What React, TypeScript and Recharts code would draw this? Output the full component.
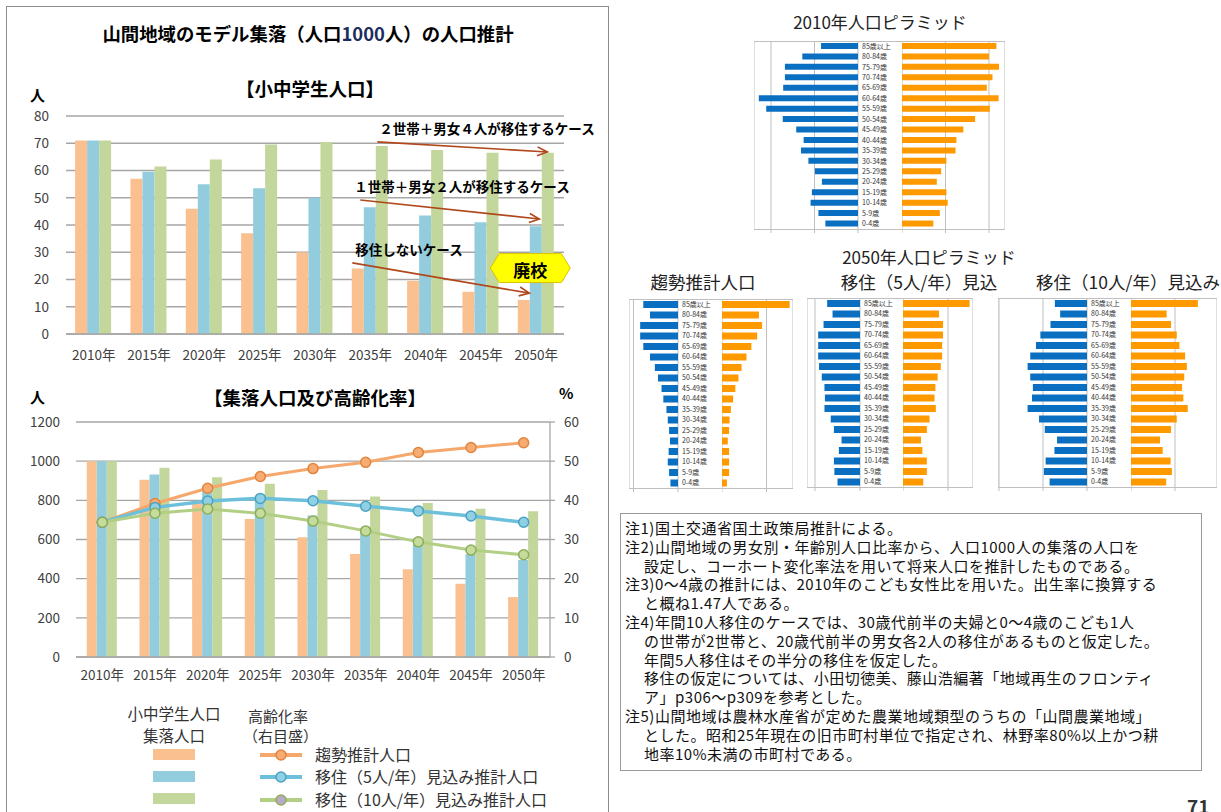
import React from 'react';
import {
  Bar, BarChart, CartesianGrid, ComposedChart, Line, ReferenceDot, ReferenceLine, XAxis, YAxis,
} from 'recharts';

const FONT = "'Noto Sans CJK JP', 'Noto Sans', sans-serif";

const YEARS = ['2010年', '2015年', '2020年', '2025年', '2030年', '2035年', '2040年', '2045年', '2050年'];

// 小中学生人口 (人)
const PUPILS_TREND = [71, 57, 46, 37, 30, 24, 19.5, 15.5, 12.5];
const PUPILS_MIG5 = [71, 59.5, 55, 53.5, 50, 46.5, 43.5, 41, 39.5];
const PUPILS_MIG10 = [71, 61.5, 64, 69.5, 70.5, 69, 67.5, 66.5, 66.5];

// 集落人口 (人)
const POP_TREND = [1000, 905, 795, 705, 612, 526, 448, 374, 306];
const POP_MIG5 = [1000, 932, 852, 805, 722, 640, 575, 525, 495];
const POP_MIG10 = [1000, 966, 918, 885, 853, 820, 786, 757, 744];

// 高齢化率 (%)
const AGING_TREND = [34.4, 39.2, 43.1, 46.1, 48.1, 49.7, 52.2, 53.5, 54.7];
const AGING_MIG5 = [34.4, 38.2, 39.8, 40.5, 39.9, 38.5, 37.3, 36.0, 34.4];
const AGING_MIG10 = [34.4, 36.7, 37.8, 36.7, 34.7, 32.2, 29.4, 27.3, 26.1];

// 人口ピラミッド
const AGES = ['85歳以上', '80-84歳', '75-79歳', '70-74歳', '65-69歳', '60-64歳', '55-59歳', '50-54歳', '45-49歳',
  '40-44歳', '35-39歳', '30-34歳', '25-29歳', '20-24歳', '15-19歳', '10-14歳', '5-9歳', '0-4歳'];
const MALE_2010 = [0.85, 1.28, 1.68, 1.68, 1.72, 2.28, 2.11, 1.73, 1.42, 1.25, 1.31, 1.14, 0.99, 0.83, 1.06, 1.09, 0.91, 0.75];
const FEMALE_2010 = [2.17, 2.0, 2.23, 2.08, 1.95, 2.22, 2.02, 1.68, 1.41, 1.25, 1.23, 1.02, 0.9, 0.8, 1.02, 1.05, 0.87, 0.72];
const MALE_2050_TREND = [0.78, 0.63, 0.85, 0.85, 0.78, 0.63, 0.52, 0.45, 0.37, 0.33, 0.26, 0.23, 0.2, 0.18, 0.21, 0.23, 0.2, 0.17];
const FEMALE_2050_TREND = [1.52, 0.83, 0.9, 0.79, 0.66, 0.55, 0.44, 0.37, 0.3, 0.25, 0.2, 0.17, 0.16, 0.13, 0.16, 0.16, 0.16, 0.11];
const MALE_2050_MIG5 = [0.73, 0.61, 0.81, 0.93, 0.93, 0.93, 0.91, 0.85, 0.79, 0.78, 0.79, 0.65, 0.58, 0.41, 0.47, 0.58, 0.57, 0.5];
const FEMALE_2050_MIG5 = [1.48, 0.8, 0.89, 0.89, 0.87, 0.87, 0.84, 0.77, 0.72, 0.7, 0.73, 0.59, 0.53, 0.4, 0.43, 0.53, 0.53, 0.45];
const MALE_2050_MIG10 = [0.73, 0.61, 0.83, 1.06, 1.16, 1.29, 1.35, 1.29, 1.23, 1.25, 1.35, 1.09, 0.96, 0.68, 0.74, 0.94, 0.98, 0.85];
const FEMALE_2050_MIG10 = [1.52, 0.81, 0.91, 1.04, 1.1, 1.23, 1.27, 1.21, 1.16, 1.19, 1.29, 1.04, 0.91, 0.66, 0.72, 0.9, 0.93, 0.8];

const NOTES = [
  '注1)国土交通省国土政策局推計による。',
  '注2)山間地域の男女別・年齢別人口比率から、人口1000人の集落の人口を',
  '設定し、コーホート変化率法を用いて将来人口を推計したものである。',
  '注3)0～4歳の推計には、2010年のこども女性比を用いた。出生率に換算する',
  'と概ね1.47人である。',
  '注4)年間10人移住のケースでは、30歳代前半の夫婦と0～4歳のこども1人',
  'の世帯が2世帯と、20歳代前半の男女各2人の移住があるものと仮定した。',
  '年間5人移住はその半分の移住を仮定した。',
  '移住の仮定については、小田切徳美、藤山浩編著「地域再生のフロンティ',
  'ア」p306～p309を参考とした。',
  '注5)山間地域は農林水産省が定めた農業地域類型のうちの「山間農業地域」',
  'とした。昭和25年現在の旧市町村単位で指定され、林野率80%以上かつ耕',
  '地率10%未満の市町村である。',
];

const ORANGE = '#fac090';
const BLUE = '#93cddd';
const GREEN = '#c3d69b';
const GRID = '#a6a6a6';
const PYR_GRID = '#bfbfbf';
const ARROW = '#b0481c';

const pupilData = YEARS.map((year, i) => ({
  year, trend: PUPILS_TREND[i], mig5: PUPILS_MIG5[i], mig10: PUPILS_MIG10[i],
}));
const popData = YEARS.map((year, i) => ({
  year, trend: POP_TREND[i], mig5: POP_MIG5[i], mig10: POP_MIG10[i],
  aTrend: AGING_TREND[i], aMig5: AGING_MIG5[i], aMig10: AGING_MIG10[i],
}));

const arrowShape = (label: string, dxStart: number, dxEnd: number, textDx: number) => (p: any) => {
  if (p.x1 == null) return <g />;
  const x1 = p.x1 + dxStart, x2 = p.x2 + dxEnd, y1 = p.y1, y2 = p.y2;
  const ang = Math.atan2(y2 - y1, x2 - x1);
  const L = 11, a = 0.42;
  const hx1 = x2 - L * Math.cos(ang - a), hy1 = y2 - L * Math.sin(ang - a);
  const hx2 = x2 - L * Math.cos(ang + a), hy2 = y2 - L * Math.sin(ang + a);
  return (
    <g>
      <text x={x1 + textDx} y={y1 - 14} dominantBaseline="central" fontSize={13.5} fontWeight={700} fill="#000" fontFamily={FONT}>{label}</text>
      <line x1={x1} y1={y1} x2={x2} y2={y2} stroke={ARROW} strokeWidth={1.6} />
      <polyline points={`${hx1},${hy1} ${x2},${y2} ${hx2},${hy2}`} fill="none" stroke={ARROW} strokeWidth={1.6} />
    </g>
  );
};

const closedShape = (p: any) => {
  if (p.cx == null) return <g />;
  const cx = p.cx - 6, cy = p.cy, w = 40, h = 14.5, c = 9;
  const pts = [[cx - w + c, cy - h], [cx + w - c, cy - h], [cx + w, cy], [cx + w - c, cy + h], [cx - w + c, cy + h], [cx - w, cy]]
    .map(q => q.join(',')).join(' ');
  return (
    <g>
      <polygon points={pts} fill="#ffff00" stroke="#d9c400" strokeWidth={1} />
      <text x={cx} y={cy + 1} textAnchor="middle" dominantBaseline="central" fontSize={17} fontWeight={700} fill="#000" fontFamily={FONT}>廃校</text>
    </g>
  );
};

type PyrProps = {
  x: number; y: number; leftW: number; labelW: number; rightW: number; h: number; unit: number;
  male: number[]; female: number[];
};

const Pyramid = ({ x, y, leftW, labelW, rightW, h, unit, male, female }: PyrProps) => {
  const leftMax = leftW / unit;
  const rightMax = rightW / unit;
  const maleRows = AGES.map((age, i) => ({ age, v: male[i] }));
  const femaleRows = AGES.map((age, i) => ({ age, v: female[i] }));
  const ticksL = [0, 1, 2].filter(t => t <= leftMax);
  const ticksR = [0, 1, 2].filter(t => t <= rightMax);
  const total = leftW + labelW + rightW;
  return (
    <div style={{ position: 'absolute', left: x, top: y, width: total, height: h + 6 }}>
      <div style={{ position: 'absolute', left: 0, top: 0 }}>
        <BarChart layout="vertical" width={leftW + labelW} height={h + 6} data={maleRows}
          margin={{ top: 0, right: 0, bottom: 0, left: 0 }} barCategoryGap="19%">
          <CartesianGrid horizontal={false} stroke={PYR_GRID} />
          <XAxis type="number" domain={[0, leftMax]} ticks={ticksL} reversed allowDataOverflow axisLine={false}
            tickLine={{ stroke: PYR_GRID }} tickSize={4} tickFormatter={() => ''} height={6} />
          <YAxis type="category" dataKey="age" orientation="right" width={labelW} axisLine={false} tickLine={false}
            tickSize={0} tickMargin={4} interval={0} tick={{ fontSize: 7, fill: '#333', fontFamily: FONT }} />
          <Bar dataKey="v" fill="#0b6fc1" isAnimationActive={false} />
        </BarChart>
      </div>
      <div style={{ position: 'absolute', left: leftW + labelW, top: 0 }}>
        <BarChart layout="vertical" width={rightW} height={h + 6} data={femaleRows}
          margin={{ top: 0, right: 0, bottom: 0, left: 0 }} barCategoryGap="19%">
          <CartesianGrid horizontal={false} stroke={PYR_GRID} />
          <XAxis type="number" domain={[0, rightMax]} ticks={ticksR} allowDataOverflow axisLine={false}
            tickLine={{ stroke: PYR_GRID }} tickSize={4} tickFormatter={() => ''} height={6} />
          <YAxis type="category" dataKey="age" hide />
          <Bar dataKey="v" fill="#ff9900" isAnimationActive={false} />
        </BarChart>
      </div>
      <div style={{
        position: 'absolute', left: 0, top: 0, width: total, height: h + 1, boxSizing: 'border-box',
        borderTop: `1px solid ${PYR_GRID}`, borderBottom: `1px solid ${PYR_GRID}`, pointerEvents: 'none',
      }} />
    </div>
  );
};

const txt = (s: React.CSSProperties): React.CSSProperties => ({ position: 'absolute', whiteSpace: 'nowrap', lineHeight: 1, ...s });

const LegendLine = ({ y, color, fill, stroke, label }: { y: number; color: string; fill: string; stroke: string; label: string }) => (
  <>
    <svg style={{ position: 'absolute', left: 255, top: y - 8 }} width={52} height={16}>
      <line x1={5} y1={8} x2={47} y2={8} stroke={color} strokeWidth={4} />
      <circle cx={26} cy={8} r={5} fill={fill} stroke={stroke} strokeWidth={1.5} />
    </svg>
    <div style={txt({ left: 315, top: y - 9, fontSize: 16, color: '#333' })}>{label}</div>
  </>
);

const App = () => {
  const tickStyle = { fontSize: 13.5, fill: '#404040', fontFamily: FONT };
  return (
    <div style={{ position: 'absolute', left: 0, top: 0, width: 1221, height: 812, overflow: 'hidden', background: '#fff', fontFamily: FONT, color: '#000' }}>
      <div style={{ position: 'absolute', left: 6, top: 6, width: 601, height: 840, border: '1.5px solid #8c8c8c' }} />

      <div style={txt({ left: 8, width: 600, top: 24, textAlign: 'center', fontSize: 18.4, fontWeight: 700 })}>
        山間地域のモデル集落（人口<span style={{ color: '#1c2c5c' }}>1000</span>人）の人口推計
      </div>
      <div style={txt({ left: 10, width: 600, top: 79, textAlign: 'center', fontSize: 18.5, fontWeight: 700 })}>【小中学生人口】</div>
      <div style={txt({ left: 30, top: 87, fontSize: 15, fontWeight: 700 })}>人</div>

      <div style={{ position: 'absolute', left: 0, top: 0 }}>
        <BarChart width={610} height={380} data={pupilData} margin={{ top: 116, right: 46, bottom: 6, left: 26 }}
          barCategoryGap="16.5%" barGap={0}>
          <CartesianGrid vertical={false} stroke={GRID} strokeWidth={1.3} />
          <XAxis dataKey="year" height={40} interval={0} tickLine={false} axisLine={{ stroke: GRID, strokeWidth: 1.3 }}
            tickSize={0} tickMargin={16} tick={tickStyle} />
          <YAxis width={40} domain={[0, 80]} ticks={[0, 10, 20, 30, 40, 50, 60, 70, 80]} axisLine={false} tickLine={false}
            tickSize={0} tickMargin={17} tick={tickStyle} />
          <Bar dataKey="trend" fill={ORANGE} isAnimationActive={false} />
          <Bar dataKey="mig5" fill={BLUE} isAnimationActive={false} />
          <Bar dataKey="mig10" fill={GREEN} isAnimationActive={false} />
          <ReferenceLine segment={[{ x: '2035年', y: 70.5 }, { x: '2050年', y: 66.8 }]}
            shape={arrowShape('２世帯＋男女４人が移住するケース', 7, 11, 2)} />
          <ReferenceLine segment={[{ x: '2035年', y: 49.2 }, { x: '2050年', y: 42.2 }]}
            shape={arrowShape('１世帯＋男女２人が移住するケース', -10, 3, -6)} />
          <ReferenceLine segment={[{ x: '2035年', y: 26.1 }, { x: '2050年', y: 15 }]}
            shape={arrowShape('移住しないケース', -18, -7, 3)} />
          <ReferenceDot x="2050年" y={24.2} shape={closedShape} />
        </BarChart>
      </div>

      <div style={txt({ left: 10, width: 610, top: 388, textAlign: 'center', fontSize: 18.5, fontWeight: 700 })}>【集落人口及び高齢化率】</div>
      <div style={txt({ left: 30, top: 389, fontSize: 15, fontWeight: 700 })}>人</div>
      <div style={txt({ left: 559, top: 385, fontSize: 15, fontWeight: 700 })}>%</div>

      <div style={{ position: 'absolute', left: 0, top: 380 }}>
        <ComposedChart width={610} height={320} data={popData} margin={{ top: 42, right: 20, bottom: 8, left: 31 }}
          barCategoryGap="20.5%" barGap={0}>
          <CartesianGrid vertical={false} yAxisId="left" stroke={GRID} strokeWidth={1.3} />
          <XAxis dataKey="year" height={35} interval={0} tickLine={false} axisLine={{ stroke: GRID, strokeWidth: 1.3 }}
            tickSize={0} tickMargin={13} tick={tickStyle} />
          <YAxis yAxisId="left" width={45} domain={[0, 1200]} ticks={[0, 200, 400, 600, 800, 1000, 1200]}
            axisLine={false} tickLine={false} tickSize={0} tickMargin={16} tick={tickStyle} />
          <YAxis yAxisId="right" orientation="right" width={40} domain={[0, 60]} ticks={[0, 10, 20, 30, 40, 50, 60]}
            axisLine={{ stroke: GRID, strokeWidth: 1.3 }} tickLine={{ stroke: GRID, strokeWidth: 1.3 }} tickSize={5}
            tickMargin={9} tick={tickStyle} />
          <Bar yAxisId="left" dataKey="trend" fill={ORANGE} isAnimationActive={false} />
          <Bar yAxisId="left" dataKey="mig5" fill={BLUE} isAnimationActive={false} />
          <Bar yAxisId="left" dataKey="mig10" fill={GREEN} isAnimationActive={false} />
          <Line yAxisId="right" dataKey="aTrend" stroke="#f6a86c" strokeWidth={3}
            dot={{ r: 5, fill: '#f7ac74', stroke: '#e2843c', strokeWidth: 1.5 }} isAnimationActive={false} />
          <Line yAxisId="right" dataKey="aMig5" stroke="#6cc0dc" strokeWidth={3.5}
            dot={{ r: 5, fill: '#8fd0e4', stroke: '#4aa2c2', strokeWidth: 1.5 }} isAnimationActive={false} />
          <Line yAxisId="right" dataKey="aMig10" stroke="#b3cf86" strokeWidth={3}
            dot={{ r: 5, fill: '#c5dc9c', stroke: '#8dae58', strokeWidth: 1.5 }} isAnimationActive={false} />
        </ComposedChart>
      </div>

      <div style={txt({ left: 124, width: 100, top: 706, textAlign: 'center', fontSize: 15.5, color: '#333' })}>小中学生人口</div>
      <div style={txt({ left: 124, width: 100, top: 728, textAlign: 'center', fontSize: 15.5, color: '#333' })}>集落人口</div>
      <div style={txt({ left: 248, top: 708, fontSize: 15, color: '#333' })}>高齢化率</div>
      <div style={txt({ left: 243, top: 728, fontSize: 15, color: '#333' })}>（右目盛）</div>
      <div style={{ position: 'absolute', left: 153, top: 749, width: 42, height: 11, background: ORANGE }} />
      <div style={{ position: 'absolute', left: 153, top: 771, width: 42, height: 11, background: BLUE }} />
      <div style={{ position: 'absolute', left: 153, top: 793, width: 42, height: 11, background: GREEN }} />
      <LegendLine y={755} color="#f6a86c" fill="#f7ac74" stroke="#e2843c" label="趨勢推計人口" />
      <LegendLine y={777} color="#6cc0dc" fill="#8fd0e4" stroke="#4aa2c2" label="移住（5人/年）見込み推計人口" />
      <LegendLine y={800} color="#b3cf86" fill="#b9a9c9" stroke="#8dae58" label="移住（10人/年）見込み推計人口" />

      <div style={txt({ left: 780, width: 200, top: 13, textAlign: 'center', fontSize: 17, color: '#222' })}>2010年人口ピラミッド</div>
      <Pyramid x={754} y={41} leftW={104} labelW={44} rightW={103} h={188} unit={43.5} male={MALE_2010} female={FEMALE_2010} />

      <div style={txt({ left: 829, width: 200, top: 248, textAlign: 'center', fontSize: 17, color: '#222' })}>2050年人口ピラミッド</div>
      <div style={txt({ left: 603, width: 200, top: 273, textAlign: 'center', fontSize: 17.5, color: '#222' })}>趨勢推計人口</div>
      <div style={txt({ left: 819, width: 200, top: 273, textAlign: 'center', fontSize: 17.5, color: '#222' })}>移住（5人/年）見込</div>
      <div style={txt({ left: 1028, width: 200, top: 273, textAlign: 'center', fontSize: 17.5, color: '#222' })}>移住（10人/年）見込み</div>
      <Pyramid x={629} y={299} leftW={49} labelW={44} rightW={71} h={189} unit={44.5} male={MALE_2050_TREND} female={FEMALE_2050_TREND} />
      <Pyramid x={807} y={298} leftW={53} labelW={43} rightW={70} h={189} unit={45} male={MALE_2050_MIG5} female={FEMALE_2050_MIG5} />
      <Pyramid x={998} y={298} leftW={89} labelW={44} rightW={86} h={189} unit={44} male={MALE_2050_MIG10} female={FEMALE_2050_MIG10} />

      <div style={{
        position: 'absolute', left: 620, top: 513, width: 582, height: 258, boxSizing: 'border-box',
        border: '1.5px solid #9a9a9a', padding: '5px 0 0 4px',
      }}>
        {NOTES.map((line, i) => (
          <div key={i} style={{
            fontSize: 15, letterSpacing: 0.5, lineHeight: '18.8px', height: 18.8, whiteSpace: 'nowrap', color: '#111',
            paddingLeft: line.startsWith('注') ? 0 : 19,
          }}>{line}</div>
        ))}
      </div>

      <div style={txt({ left: 1187, top: 796, fontSize: 19, fontWeight: 700, color: '#333' })}>71</div>
    </div>
  );
};

export default App;
